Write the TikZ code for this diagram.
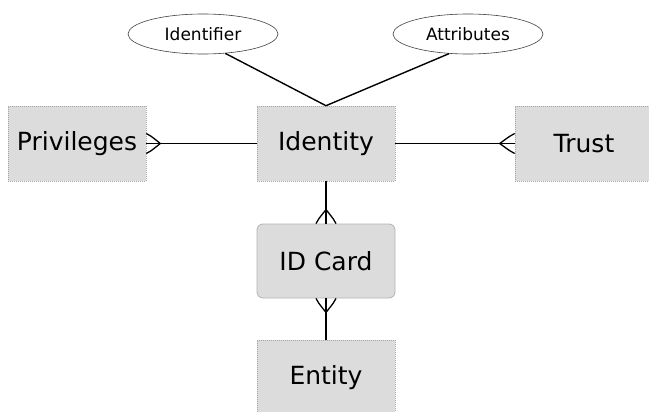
\documentclass[tikz,border=0pt]{standalone}
\usepackage{fontspec}
\setmainfont{DejaVu Sans}
\usetikzlibrary{shapes.geometric,calc}
\definecolor{boxfill}{HTML}{DCDCDC}
\tikzset{
  x=1pt, y=-1pt,
  entitybox/.style={rectangle, fill=boxfill, draw=gray!70, line width=0.6pt,
    dash pattern=on 1pt off 1pt, minimum width=138pt, minimum height=75pt,
    inner sep=0pt, font=\fontsize{25}{30}\selectfont},
  cardbox/.style={entitybox, solid, draw=gray!60, line width=0.8pt, rounded corners=6pt,
    minimum height=74pt},
  attr/.style={ellipse, fill=white, draw=black!75, line width=0.6pt,
    minimum width=150pt, minimum height=40pt, inner sep=0pt,
    font=\fontsize{17}{20}\selectfont},
  link/.style={draw=black, line width=1.5pt},
  foot/.style={draw=black, line width=1.3pt, line join=miter}
}
\begin{document}
\begin{tikzpicture}
  \useasboundingbox (0,0) rectangle (649,412);
  \begin{scope}
    \clip (0,0) rectangle (649,412);

    % entities
    \node[entitybox] (priv) at (77,143.5) {Privileges};
    \node[entitybox] (ident) at (326,143.5) {Identity};
    \node[entitybox] (trust) at (584,143.5) {Trust};
    \node[cardbox] (card) at (326,261) {ID Card};
    \node[entitybox] (ent) at (326,377.5) {Entity};

    % attributes
    \node[attr] (idf) at (203,34) {Identifier};
    \node[attr] (atr) at (468,34) {Attributes};

    % attribute links
    \draw[line width=1.4pt] (idf.-41) -- (ident.north);
    \draw[line width=1.4pt] (atr.-134) -- (ident.north);

    % relationships
    \draw[link] (priv.east) -- (ident.west);
    \draw[link] (ident.east) -- (trust.west);
    \draw[link] (ident.south) -- (card.north);
    \draw[link] (card.south) -- (ent.north);

    % crow's feet (many side)
    \draw[foot] ($(priv.east)+(0,-10)$) .. controls ($(priv.east)+(4,-8)$) .. ($(priv.east)+(14,0)$)
                .. controls ($(priv.east)+(4,8)$) .. ($(priv.east)+(0,10)$);
    \draw[foot] ($(trust.west)+(0,-10)$) .. controls ($(trust.west)+(-4,-8)$) .. ($(trust.west)+(-15,0)$)
                .. controls ($(trust.west)+(-4,8)$) .. ($(trust.west)+(0,10)$);
    \draw[foot] ($(card.north)+(-10,0)$) .. controls ($(card.north)+(-8,-4)$) .. ($(card.north)+(0,-14)$)
                .. controls ($(card.north)+(8,-4)$) .. ($(card.north)+(10,0)$);
    \draw[foot] ($(card.south)+(-10,0)$) .. controls ($(card.south)+(-8,4)$) .. ($(card.south)+(0,14)$)
                .. controls ($(card.south)+(8,4)$) .. ($(card.south)+(10,0)$);
  \end{scope}
\end{tikzpicture}
\end{document}
